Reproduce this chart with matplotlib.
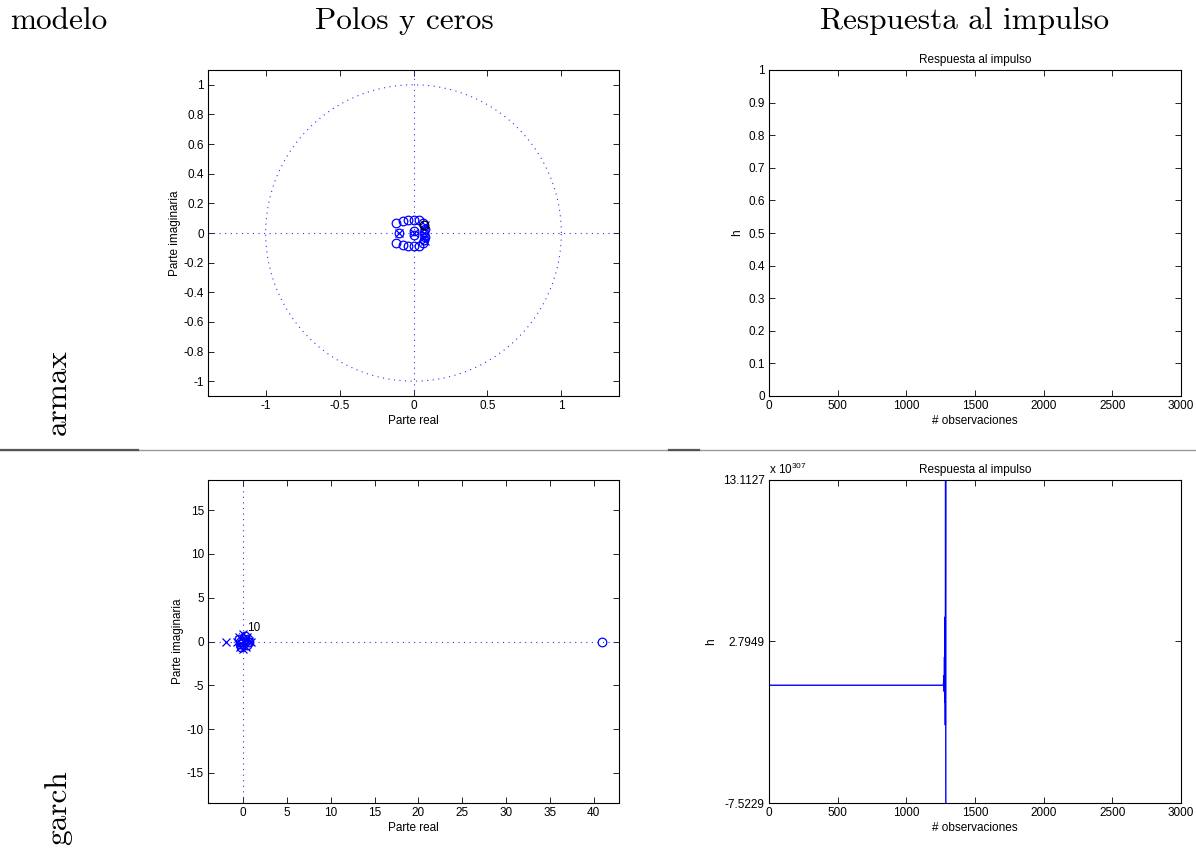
import matplotlib.pyplot as plt
import numpy as np
from matplotlib.ticker import FormatStrFormatter

plt.rcParams['font.family'] = ['Liberation Sans', 'DejaVu Sans']
plt.rcParams['axes.unicode_minus'] = False
plt.rcParams['mathtext.fontset'] = 'custom'
plt.rcParams['mathtext.rm'] = 'Liberation Sans'

W, H = 1196, 849

# headers / row labels
col_headers = ['modelo', 'Polos y ceros', 'Respuesta al impulso']
row_labels = ['armax', 'garch']

# armax: poles and zeros (Parte real / Parte imaginaria)
armax_zeros_re = [-0.12, -0.12, -0.10, -0.07, -0.035, 0.0, 0.035, -0.07, -0.035, 0.0, 0.035,
                  0.0, 0.0, 0.065, 0.075, 0.075, 0.07, 0.07, 0.065]
armax_zeros_im = [0.065, -0.065, 0.0, 0.08, 0.09, 0.09, 0.085, -0.08, -0.09, -0.09, -0.085,
                  0.012, -0.012, 0.07, 0.025, -0.025, 0.0, -0.05, -0.07]
armax_poles_re = [0.07, 0.07, 0.07, 0.075, 0.075, -0.1, 0.0]
armax_poles_im = [0.0, 0.03, -0.03, 0.055, -0.055, 0.0, 0.0]
armax_dup_re = [0.068]
armax_dup_im = [0.055]

# garch: poles and zeros
garch_zeros_re = [41.0, 0.6, -0.5, 0.2, -0.2, 0.4, -0.4, 0.0, 0.7]
garch_zeros_im = [0.0, 0.3, 0.3, 0.6, -0.6, -0.4, -0.3, 0.0, -0.1]
garch_poles_re = [-1.9, 0.5, -0.5, 0.3, -0.3, 0.7, -0.7, 0.0, 0.0, 0.2, -0.2, 0.9]
garch_poles_im = [0.0, 0.5, 0.5, -0.6, -0.6, 0.1, -0.1, 0.8, -0.8, 0.2, -0.2, 0.0]
garch_mult = '10'

# impulse responses (garch in units of 1e307)
n_garch = [0, 1270, 1274, 1276, 1278, 1280, 1282, 1284, 1286, 1288]
h_garch = [0.0, 0.0, 0.6, -0.4, 1.8, -1.1, 4.36, -2.54, 17.9, -17.9]
garch_yticks = [-7.5229, 2.7949, 13.1127]

fig = plt.figure(figsize=(W / 100, H / 100), dpi=100)


def rect(x0, y0, x1, y1):
    return [x0 / W, 1 - y1 / H, (x1 - x0) / W, (y1 - y0) / H]


def matlab_axes(ax):
    ax.tick_params(direction='in', top=True, right=True, length=4, width=0.6,
                   labelsize=8.5, pad=3)
    for s in ax.spines.values():
        s.set_linewidth(0.8)


dots = (0, (1, 4))


def zplane(ax, zre, zim, pre, pim, xlim, ylim):
    t = np.linspace(0, 2 * np.pi, 400)
    ax.plot(np.cos(t), np.sin(t), color='#3030ff', ls=dots, lw=0.8)
    ax.plot(xlim, [0, 0], color='#3030ff', ls=dots, lw=0.8)
    ax.plot([0, 0], ylim, color='#3030ff', ls=dots, lw=0.8)
    ax.plot(zre, zim, 'o', mfc='none', mec='b', ms=6.2, mew=0.9)
    ax.plot(pre, pim, 'x', color='b', ms=5.5, mew=0.9)
    ax.set_xlim(xlim)
    ax.set_ylim(ylim)
    ax.set_xlabel('Parte real', fontsize=8.5, labelpad=2)
    ax.set_ylabel('Parte imaginaria', fontsize=8.5, labelpad=2)
    matlab_axes(ax)


# top-left
ax1 = fig.add_axes(rect(208, 70, 619, 396))
zplane(ax1, armax_zeros_re, armax_zeros_im, armax_poles_re, armax_poles_im,
       (-1.39, 1.39), (-1.1, 1.1))
ax1.plot(armax_dup_re, armax_dup_im, 'o', mfc='none', mec='k', ms=6.2, mew=0.9)
ax1.set_xticks([-1, -0.5, 0, 0.5, 1])
ax1.set_yticks(np.round(np.arange(-1, 1.01, 0.2), 1) + 0.0)
ax1.xaxis.set_major_formatter(FormatStrFormatter('%g'))
ax1.yaxis.set_major_formatter(FormatStrFormatter('%g'))

# top-right
ax2 = fig.add_axes(rect(769, 70, 1181, 396))
ax2.set_xlim(0, 3000)
ax2.set_ylim(0, 1)
ax2.set_xticks(np.arange(0, 3001, 500))
ax2.set_yticks(np.round(np.arange(0, 1.01, 0.1), 1) + 0.0)
ax2.yaxis.set_major_formatter(FormatStrFormatter('%g'))
ax2.set_title('Respuesta al impulso', fontsize=8.5, pad=5)
ax2.set_xlabel('# observaciones', fontsize=8.5, labelpad=2)
ax2.set_ylabel('h', fontsize=8.5, labelpad=4)
matlab_axes(ax2)

# bottom-left
ax3 = fig.add_axes(rect(208, 480, 619, 803))
zplane(ax3, garch_zeros_re, garch_zeros_im, garch_poles_re, garch_poles_im,
       (-4.0, 42.9), (-18.45, 18.45))
ax3.text(0.45, 0.9, garch_mult, fontsize=8.5, va='bottom', ha='left')
ax3.set_xticks(np.arange(0, 41, 5))
ax3.set_yticks(np.arange(-15, 16, 5))

# bottom-right
ax4 = fig.add_axes(rect(769, 480, 1181, 803))
ax4.plot(n_garch, h_garch, color='b', lw=1.0)
ax4.set_xlim(0, 3000)
ax4.set_ylim(garch_yticks[0], garch_yticks[-1])
ax4.set_xticks(np.arange(0, 3001, 500))
ax4.set_yticks(garch_yticks)
ax4.yaxis.set_major_formatter(FormatStrFormatter('%.4f'))
ax4.set_title('Respuesta al impulso', fontsize=8.5, pad=5)
ax4.set_xlabel('# observaciones', fontsize=8.5, labelpad=2)
ax4.set_ylabel('h', fontsize=8.5, labelpad=4)
ax4.text(0.0, 1.01, r'x 10$^{307}$', transform=ax4.transAxes, fontsize=8.5,
         ha='left', va='bottom')
matlab_axes(ax4)

# table-like headers and row labels
cm = 'cmr10'
fig.text(10 / W, 1 - 21 / H, col_headers[0], family=cm, fontsize=22.5, ha='left', va='center')
fig.text(404 / W, 1 - 21 / H, col_headers[1], family=cm, fontsize=22.5, ha='center', va='center')
fig.text(965 / W, 1 - 21 / H, col_headers[2], family=cm, fontsize=22.5, ha='center', va='center')
fig.text(58 / W, 1 - 392 / H, row_labels[0], family=cm, fontsize=22.5, rotation=90,
         ha='center', va='center')
fig.text(58 / W, 1 - 808 / H, row_labels[1], family=cm, fontsize=22.5, rotation=90,
         ha='center', va='center')

# horizontal rules
fig.add_artist(plt.Line2D([0, 1], [1 - 450 / H] * 2, color='#999999', lw=1.0))
fig.add_artist(plt.Line2D([0, 138 / W], [1 - 450 / H] * 2, color='#555555', lw=1.6))
fig.add_artist(plt.Line2D([669 / W, 699 / W], [1 - 450 / H] * 2, color='#555555', lw=1.6))

fig.savefig('out.png', dpi=100)
